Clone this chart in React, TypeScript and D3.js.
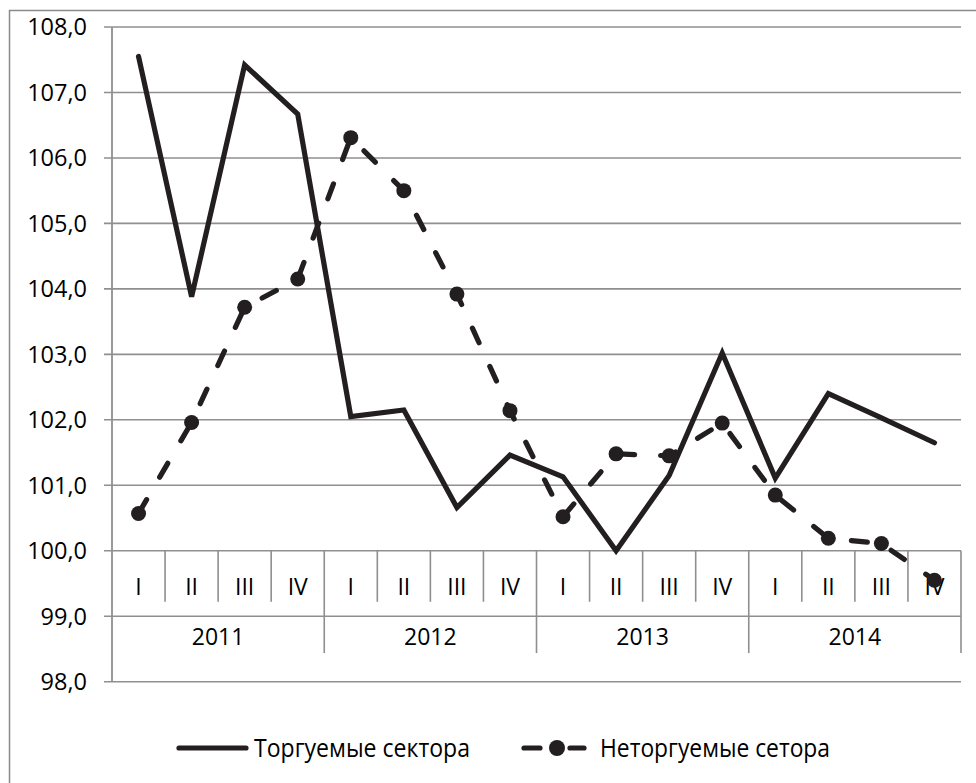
import * as d3 from 'd3';

// квартальные индексы, % к соответствующему периоду прошлого года
const quarters = ['I', 'II', 'III', 'IV'];
const years = ['2011', '2012', '2013', '2014'];
const yTicks = [98, 99, 100, 101, 102, 103, 104, 105, 106, 107, 108];

const tradable = [107.55, 103.88, 107.42, 106.67, 102.05, 102.15, 100.66, 101.46, 101.13, 100.0, 101.15, 103.02, 101.11, 102.4, 102.03, 101.65];
const nonTradable = [100.57, 101.96, 103.72, 104.15, 106.31, 105.5, 103.92, 102.14, 100.52, 101.48, 101.45, 101.95, 100.85, 100.19, 100.11, 99.55];

const seriesNames = ['Торгуемые сектора', 'Неторгуемые сетора'];

const W = 976;
const H = 783;
const left = 112;
const right = 961;
const top = 27;
const bottom = 681.7;

const ink = '#231f20';
const grid = '#8f8f8f';
const font = '"Open Sans", "Noto Sans", sans-serif';

export default function App() {
  const cats = years.flatMap((y) => quarters.map((q) => y + '-' + q));
  const x = d3.scaleBand<number>().domain(d3.range(cats.length)).range([left, right]).padding(0);
  const y = d3.scaleLinear().domain([98, 108]).range([bottom, top]);
  const bw = x.bandwidth();
  const cx = (i: number) => (x(i) as number) + bw / 2;

  const line = d3
    .line<number>()
    .x((d, i) => cx(i))
    .y((d) => y(d));

  const axisY = y(100);
  const qBottom = axisY + 51;
  const yrBottom = axisY + 102.3;
  const fmt = (v: number) => v.toFixed(1).replace('.', ',');
  const legY = 748;

  return (
    <svg
      width={W}
      height={H}
      style={{ position: 'absolute', left: 0, top: 0, background: '#fff' }}
      fontFamily={font}
    >
      <rect x={9.5} y={10.5} width={W + 20} height={H + 20} fill="none" stroke="#8a8a8a" strokeWidth={1.5} />

      {/* сетка и подписи оси Y */}
      {yTicks.map((t) => (
        <g key={t}>
          <line x1={left - 8} x2={right} y1={y(t)} y2={y(t)} stroke={grid} strokeWidth={1.6} />
          <text x={87} y={y(t)} dy="0.36em" textAnchor="end" fontSize={23.5} fill="#000">
            {fmt(t)}
          </text>
        </g>
      ))}
      <line x1={left} x2={left} y1={top} y2={bottom} stroke={grid} strokeWidth={1.8} />

      {/* многоуровневая ось категорий */}
      {d3.range(1, cats.length + 1).map((i) => {
        const bx = i === cats.length ? right : (x(i) as number);
        const isYear = i % 4 === 0;
        return (
          <line key={'s' + i} x1={bx} x2={bx} y1={axisY} y2={isYear ? yrBottom : qBottom} stroke={grid} strokeWidth={1.6} />
        );
      })}
      {cats.map((c, i) => (
        <text key={c} x={cx(i)} y={axisY + 35.5} dy="0.36em" textAnchor="middle" fontSize={23} fill="#000">
          {quarters[i % 4]}
        </text>
      ))}
      {years.map((yr, j) => (
        <text
          key={yr}
          x={((x(j * 4) as number) + (x(j * 4 + 3) as number) + bw) / 2}
          y={axisY + 86}
          dy="0.36em"
          textAnchor="middle"
          fontSize={23}
          fill="#000"
        >
          {yr}
        </text>
      ))}

      {/* ряды */}
      <path d={line(tradable) || ''} fill="none" stroke={ink} strokeWidth={5.2} strokeLinejoin="miter" strokeLinecap="round" />
      <path
        d={line(nonTradable) || ''}
        fill="none"
        stroke={ink}
        strokeWidth={5.2}
        strokeDasharray="16 26"
        strokeLinecap="round"
      />
      {nonTradable.map((v, i) => (
        <circle key={i} cx={cx(i)} cy={y(v)} r={7.5} fill={ink} />
      ))}

      {/* легенда */}
      <line x1={179} x2={246} y1={legY} y2={legY} stroke={ink} strokeWidth={5.2} strokeLinecap="round" />
      <text x={254} y={legY} dy="0.36em" fontSize={25} fill="#000" textLength={216} lengthAdjust="spacingAndGlyphs">
        {seriesNames[0]}
      </text>
      <line x1={524} x2={540} y1={legY} y2={legY} stroke={ink} strokeWidth={5.2} strokeLinecap="round" />
      <line x1={570} x2={584} y1={legY} y2={legY} stroke={ink} strokeWidth={5.2} strokeLinecap="round" />
      <circle cx={557} cy={legY} r={8} fill={ink} />
      <text x={600} y={legY} dy="0.36em" fontSize={25} fill="#000" textLength={230} lengthAdjust="spacingAndGlyphs">
        {seriesNames[1]}
      </text>
    </svg>
  );
}
